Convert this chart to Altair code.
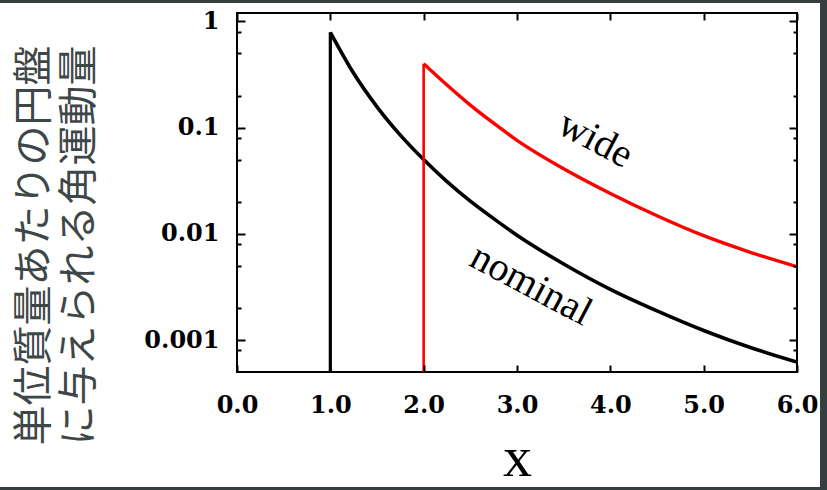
import altair as alt
import pandas as pd

# Curve samples: x and angular momentum per unit mass
nominal_x = [1.0, 1.25, 1.5, 1.75, 2.0, 2.25, 2.5, 2.75, 3.0, 3.5, 4.0, 4.5, 5.0, 5.5, 6.0]
nominal_y = [0.79, 0.325, 0.157, 0.085, 0.050, 0.031, 0.0203, 0.0139, 0.0097, 0.0052,
             0.0030, 0.00188, 0.00123, 0.00085, 0.00062]
wide_x = [2.0, 2.25, 2.5, 2.75, 3.0, 3.5, 4.0, 4.5, 5.0, 5.5, 6.0]
wide_y = [0.40, 0.252, 0.163, 0.110, 0.076, 0.041, 0.0240, 0.0148, 0.0096, 0.0067, 0.0049]

# Axis ticks and domains
x_ticks = [0, 1, 2, 3, 4, 5, 6]
y_major = [1, 0.1, 0.01, 0.001]
y_minor = [0.8, 0.5, 0.2, 0.08, 0.05, 0.02, 0.008, 0.005, 0.002, 0.0008]
x_domain = [0, 6]
y_domain = [0.0005, 1.2]

# Curve labels
label_text = ["wide", "nominal"]
label_x = [3.84, 3.15]
label_y = [0.077, 0.0033]

W, H = 560, 359
TICK_FONT = "DejaVu Serif"
EDGE = "#353f3f"

nominal_df = pd.DataFrame({"x": nominal_x, "y": nominal_y})
wide_df = pd.DataFrame({"x": wide_x, "y": wide_y})
nominal_rule = pd.DataFrame({"x": [nominal_x[0]], "floor": [y_domain[0]], "peak": [nominal_y[0]]})
wide_rule = pd.DataFrame({"x": [wide_x[0]], "floor": [y_domain[0]], "peak": [wide_y[0]]})
labels_df = pd.DataFrame({"x": label_x, "y": label_y, "text": label_text})
one = pd.DataFrame({"a": [0]})

xs = alt.Scale(domain=x_domain, nice=False, zero=False)
ys = alt.Scale(type="log", domain=y_domain, nice=False)


def tick_axis(orient, values, size, offset):
    # inward-pointing tick marks only
    return alt.Axis(orient=orient, values=values, tickSize=size, offset=offset,
                    labels=False, domain=False, grid=False, title=None,
                    tickColor="black", tickWidth=2, zindex=1)


def edge_strip(x0, x1, y0, y1):
    # dark border strip around the figure
    return alt.Chart(one).mark_rect(color=EDGE).encode(
        x=alt.value(x0), x2=alt.value(x1), y=alt.value(y0), y2=alt.value(y1)
    )


nominal_line = alt.Chart(nominal_df).mark_line(
    color="black", strokeWidth=3.6, interpolate="monotone", clip=True
).encode(
    x=alt.X("x:Q", scale=xs, axis=alt.Axis(
        orient="bottom", values=x_ticks, format=".1f", ticks=False, tickSize=0,
        domain=False, grid=False, labelFont=TICK_FONT, labelFontWeight="bold",
        labelFontSize=24, labelColor="black", labelPadding=21, labelFlush=False,
        labelOverlap=False,
        title="x", titleFont="Liberation Serif", titleFontSize=58,
        titleFontWeight="normal", titleColor="black", titleBaseline="alphabetic",
        titleY=103, titleX=W / 2, zindex=1,
    )),
    y=alt.Y("y:Q", scale=ys, axis=alt.Axis(
        orient="left", values=y_major, format="~g", ticks=False, tickSize=0,
        domain=False, grid=False, labelFont=TICK_FONT, labelFontWeight="bold",
        labelFontSize=24, labelColor="black", labelPadding=18, labelFlush=False,
        labelOverlap=False,
        title=["単位質量あたりの円盤", "に与えられる角運動量"],
        titleFont="Noto Sans CJK JP", titleFontSize=40, titleFontWeight="normal",
        titleColor="#3e4747", titleAngle=-90, titleAlign="center",
        titleBaseline="middle", titleLineHeight=45, titleX=-203, titleY=232,
        zindex=1,
    )),
)

wide_line = alt.Chart(wide_df).mark_line(
    color="#ff0000", strokeWidth=3.4, interpolate="monotone", clip=True
).encode(
    x=alt.X("x:Q", scale=xs, axis=tick_axis("top", x_ticks, 7, -H)),
    y=alt.Y("y:Q", scale=ys, axis=tick_axis("right", y_major, 8, -W)),
)

nominal_drop = alt.Chart(nominal_rule).mark_rule(color="black", strokeWidth=3.2).encode(
    x=alt.X("x:Q", scale=xs, axis=tick_axis("bottom", x_ticks, 7, -H)),
    y=alt.Y("floor:Q", scale=ys, axis=tick_axis("left", y_major, 8, -W)),
    y2="peak:Q",
)

wide_drop = alt.Chart(wide_rule).mark_rule(color="#ff0000", strokeWidth=2.6).encode(
    x=alt.X("x:Q", scale=xs, axis=None),
    y=alt.Y("floor:Q", scale=ys, axis=tick_axis("right", y_minor, 4, -W)),
    y2="peak:Q",
)

curve_labels = alt.Chart(labels_df).mark_text(
    font="Liberation Serif", fontSize=40, angle=28, color="black",
    align="center", baseline="middle"
).encode(
    x=alt.X("x:Q", scale=xs, axis=None),
    y=alt.Y("y:Q", scale=ys, axis=tick_axis("left", y_minor, 4, -W)),
    text="text:N",
)

chart = alt.layer(
    nominal_line, wide_line, nominal_drop, wide_drop, curve_labels,
    edge_strip(-237, 590, -13, -10),
    edge_strip(583, 590, -13, 477),
    edge_strip(-237, 590, 474, 477),
).resolve_axis(
    x="independent", y="independent"
).properties(
    width=W, height=H,
    autosize=alt.AutoSizeParams(type="none"),
    padding={"left": 237, "top": 13, "right": 30, "bottom": 118},
    background="white",
).configure_view(
    stroke="black", strokeWidth=2
)

chart.save("out.html", embed_options={"renderer": "svg", "actions": False})
